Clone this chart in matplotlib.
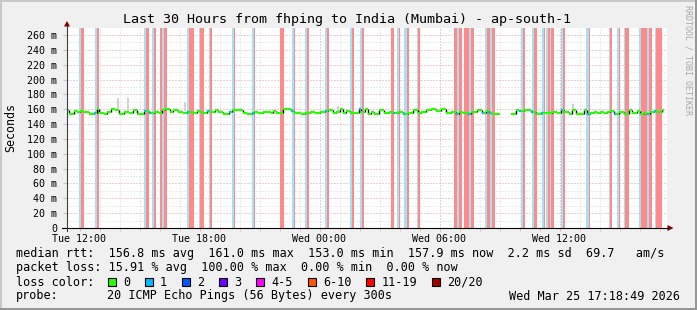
import numpy as np
import matplotlib.pyplot as plt
from matplotlib.patches import Rectangle, Polygon
from matplotlib.lines import Line2D

# ---- data: times are minutes after graph start (Tue 11:22:30) ----
START_H = 11.375
SPAN_MIN = 1800

med_t = [0, 6, 21, 30, 39, 51, 66, 81, 90, 96, 111, 120, 132, 144, 156, 171, 186, 198, 210, 231,
         246, 261, 276, 285, 294, 309, 318, 333, 348, 360, 378, 390, 399, 408, 420, 429, 444, 453,
         468, 486, 495, 528, 540, 555, 561, 573, 588, 612, 618, 627, 648, 672, 681, 687, 702, 714,
         729, 744, 759, 774, 783, 798, 807, 819, 828, 837, 849, 864, 876, 882, 894, 903, 912, 921,
         936, 951, 966, 978, 993, 1008, 1023, 1038, 1053, 1062, 1077, 1092, 1107, 1122, 1137, 1152,
         1167, 1176, 1188, 1203, 1212, 1230, 1245, 1257, 1266, 1275, 1299, 1332, 1347, 1356, 1371,
         1392, 1407, 1422, 1437, 1455, 1470, 1482, 1491, 1506, 1515, 1527, 1551, 1560, 1569, 1581,
         1590, 1599, 1611, 1620, 1629, 1641, 1656, 1671, 1686, 1695, 1710, 1719, 1731, 1740, 1749,
         1761, 1770, 1785, 1791]
med_ms = [159.1, 153.7, 157.7, 156.8, 157.7, 156.8, 153.7, 155.5, 160.0, 154.6, 153.0, 156.8, 160.9,
          159.1, 153.0, 156.8, 154.6, 159.1, 153.7, 158.2, 155.5, 156.8, 155.5, 159.1, 160.0, 156.8,
          159.1, 156.8, 155.5, 156.8, 155.5, 157.7, 156.8, 155.5, 157.7, 156.8, 159.1, 156.8, 153.7,
          156.8, 159.1, 154.6, 153.7, 155.5, 156.8, 154.6, 156.8, 154.6, 157.7, 154.6, 160.0, 157.7,
          155.5, 154.6, 153.7, 154.6, 156.8, 154.6, 156.8, 157.7, 159.1, 154.6, 156.8, 160.0, 154.6,
          157.7, 155.5, 154.6, 160.0, 156.8, 160.0, 153.7, 156.8, 153.7, 159.1, 155.5, 156.8, 154.6,
          156.8, 153.7, 154.6, 159.1, 155.5, 156.8, 159.1, 160.0, 157.7, 160.0, 155.5, 156.8, 153.7,
          156.8, 155.5, 153.7, 156.8, 159.1, 155.5, 157.7, 154.6, 153.7, np.nan, 153.7, 159.1, 157.7,
          159.1, 156.8, 153.7, 154.6, 155.5, 156.8, 154.6, 159.1, 156.8, 153.7, 159.1, 153.7, 159.1,
          153.7, 155.5, 156.8, 154.6, 156.8, 154.6, 156.8, 157.7, 153.7, 156.8, 153.7, 159.1, 155.5,
          157.7, 153.7, 154.6, 153.7, 156.8, 157.7, 156.8, 159.1, np.nan]
# steps where 1 of 20 pings was lost
med_loss1_t = [81, 231, 246, 360, 420, 486, 555, 672, 774, 876, 978, 1008, 1167, 1203, 1245, 1266,
               1356, 1392, 1422, 1482, 1560, 1641, 1740, 1761]

blue_start = [36, 84, 231, 255, 283.5, 360, 394.5, 426, 493.5, 555, 675, 714, 773, 849, 877.5, 989,
              1011, 1049, 1170, 1206, 1254, 1268, 1361, 1396, 1424, 1436, 1449, 1483, 1558, 1626,
              1649, 1670, 1717, 1740, 1763]
blue_end = [42, 90, 235.5, 259.5, 289.5, 366, 398, 429, 501, 561, 681, 720, 779, 855, 883.5, 997,
            1018.5, 1053, 1176, 1212, 1261, 1275, 1367, 1402, 1431, 1443, 1452, 1487, 1565, 1630,
            1655, 1673, 1723, 1745, 1768]
red_start = [42, 90, 235.5, 259.5, 277.5, 289.5, 366, 398, 429, 501, 561, 637.5, 681, 720, 779, 855,
             883.5, 971, 997, 1018.5, 1053, 1161, 1176, 1191, 1212, 1261, 1275, 1367, 1402, 1431,
             1443, 1452, 1487, 1565, 1630, 1655, 1673, 1723, 1745, 1768]
red_end = [51, 96, 246, 265.5, 283.5, 300, 381, 411, 435, 504, 564, 651, 684, 726, 786, 861, 891,
           981, 999, 1026, 1057.5, 1170, 1185, 1206, 1221, 1268, 1284, 1373, 1410, 1435, 1449,
           1461, 1493, 1568, 1636, 1660, 1686, 1740, 1755, 1785]

smoke_t = [150, 180, 351, 810, 1515]
smoke_top = [175, 175, 170, 164, 167]

tick_hours = [12, 18, 24, 30, 36]
tick_labels = ["Tue 12:00", "Tue 18:00", "Wed 00:00", "Wed 06:00", "Wed 12:00"]

loss_labels = ["0", "1", "2", "3", "4-5", "6-10", "11-19", "20/20"]
loss_colors = ["#26ff00", "#00b8ff", "#0059ff", "#6a00ff", "#ff00ff", "#ff5500", "#ff0000", "#a10000"]

title = "Last 30 Hours from fhping to India (Mumbai) - ap-south-1"
legend_lines = [
    "median rtt:  156.8 ms avg  161.0 ms max  153.0 ms min  157.9 ms now  2.2 ms sd  69.7   am/s",
    "packet loss: 15.91 % avg  100.00 % max  0.00 % min  0.00 % now",
]
probe_text = "20 ICMP Echo Pings (56 Bytes) every 300s"
stamp = "Wed Mar 25 17:18:49 2026"

# ---- figure ----
W, H = 697, 310
MONO = "DejaVu Sans Mono"
GRID = "#d9d9d9"
MGRID = "#eeb3b3"


def fx(x):
    return x / W


def fy(y):
    return 1 - y / H


fig = plt.figure(figsize=(W / 100, H / 100), dpi=100, facecolor="#f0f0f0")
ax = fig.add_axes([fx(67), fy(228), 600 / W, 200 / H])
ax.set_facecolor("white")
ax.set_xlim(0, SPAN_MIN)
ax.set_ylim(0, 269.4)
for s in ax.spines.values():
    s.set_visible(False)

# grid (under the loss bars)
maj_x = [(h - START_H) * 60 for h in tick_hours]
min_x = [(h - START_H) * 60 for h in np.arange(12, 42)]
dots = (0, (1, 2))
for x in min_x:
    ax.axvline(x, color=GRID, lw=0.72, ls=dots, zorder=0.5)
for y in np.arange(10, 270, 10):
    ax.axhline(y, color=GRID, lw=0.72, ls=dots, zorder=0.5)
for x in maj_x:
    ax.axvline(x, color=MGRID, lw=0.72, ls=dots, zorder=0.6)
for y in np.arange(20, 270, 20):
    ax.axhline(y, color=MGRID, lw=0.72, ls=dots, zorder=0.6)

# loss bars
for s, e in zip(red_start, red_end):
    ax.axvspan(s, e, color="#ff8a8a", lw=0, zorder=1)
for s, e in zip(blue_start, blue_end):
    ax.axvspan(s, e, color="#a6e0f5", lw=0, zorder=1)

# smoke spikes
ax.bar(smoke_t, np.array(smoke_top) - 158, bottom=158, width=6, align="edge",
       color="#d2d2d2", lw=0, zorder=2)

# median line
t = np.array(med_t, dtype=float)
v = np.array(med_ms, dtype=float)
ok = np.isfinite(v[:-1]) & np.isfinite(v[1:])
ax.vlines(t[1:][ok], v[:-1][ok], v[1:][ok], color="black", lw=1.0, zorder=3)
fin = np.isfinite(v[:-1])
ax.hlines(v[:-1][fin], t[:-1][fin], t[1:][fin], color="#26ff00", lw=1.6, zorder=4)
for lt in med_loss1_t:
    i = np.searchsorted(t, lt, side="right") - 1
    ax.hlines(v[i], lt, lt + 6, color="#00b8ff", lw=1.6, zorder=5)

# ticks
ax.set_xticks(maj_x)
ax.set_xticklabels(tick_labels, family=MONO, fontsize=7.2)
ax.set_xticks(min_x, minor=True)
ax.set_yticks(np.arange(0, 261, 20))
ax.set_yticklabels(["0"] + ["%d m" % y for y in range(20, 261, 20)], family=MONO, fontsize=7.2)
ax.tick_params(axis="x", which="both", length=2, color=MGRID, pad=2)
ax.tick_params(axis="y", which="both", length=3, color="#c8c8c8", pad=4)

# axis lines and arrows
fig.add_artist(Line2D([fx(62), fx(668)], [fy(228), fy(228)], color="black", lw=0.8))
fig.add_artist(Line2D([fx(67), fx(67)], [fy(231), fy(26)], color="#404040", lw=0.8))
fig.add_artist(Polygon([(fx(64), fy(26.5)), (fx(70), fy(26.5)), (fx(67), fy(21))],
                       closed=True, color="#800000", lw=0))
fig.add_artist(Polygon([(fx(667.5), fy(225)), (fx(667.5), fy(231)), (fx(673.5), fy(228))],
                       closed=True, color="#800000", lw=0))

# texts
fig.text(fx(347), fy(19), title, family=MONO, fontsize=9.6, ha="center", va="center")
fig.text(fx(11), fy(128), "Seconds", family=MONO, fontsize=8.4, rotation=90,
         ha="center", va="center")
fig.text(fx(688), fy(60), "RRDTOOL / TOBI OETIKER", family=MONO, fontsize=6,
         color="#a8a8a8", rotation=270, ha="center", va="center")

fig.text(fx(16), fy(254), legend_lines[0], family=MONO, fontsize=8.5, va="center")
fig.text(fx(16), fy(268), legend_lines[1], family=MONO, fontsize=8.5, va="center")
fig.text(fx(16), fy(282), "loss color:", family=MONO, fontsize=8.5, va="center")
bx = 108
for lab, col in zip(loss_labels, loss_colors):
    fig.add_artist(Rectangle((fx(bx), fy(286)), 8 / W, 8 / H, facecolor=col,
                             edgecolor="black", lw=0.8))
    fig.text(fx(bx + 15), fy(282), lab, family=MONO, fontsize=8.5, va="center")
    bx = bx + 15 + 7.12 * len(lab) + 15
fig.text(fx(16), fy(296), "probe:", family=MONO, fontsize=8.5, va="center")
fig.text(fx(107), fy(296), probe_text, family=MONO, fontsize=8.5, va="center")
fig.text(fx(680), fy(296), stamp, family=MONO, fontsize=8.5, va="center", ha="right")

# 3d border
fig.add_artist(Rectangle((0, fy(2)), 1, 2 / H, color="#c8c8c8", lw=0))
fig.add_artist(Rectangle((0, 0), 2 / W, 1, color="#c8c8c8", lw=0))
fig.add_artist(Rectangle((0, 0), 1, 2 / H, color="#969696", lw=0))
fig.add_artist(Rectangle((fx(695), 0), 2 / W, 1, color="#969696", lw=0))

fig.savefig("out.png", dpi=100, facecolor=fig.get_facecolor())
